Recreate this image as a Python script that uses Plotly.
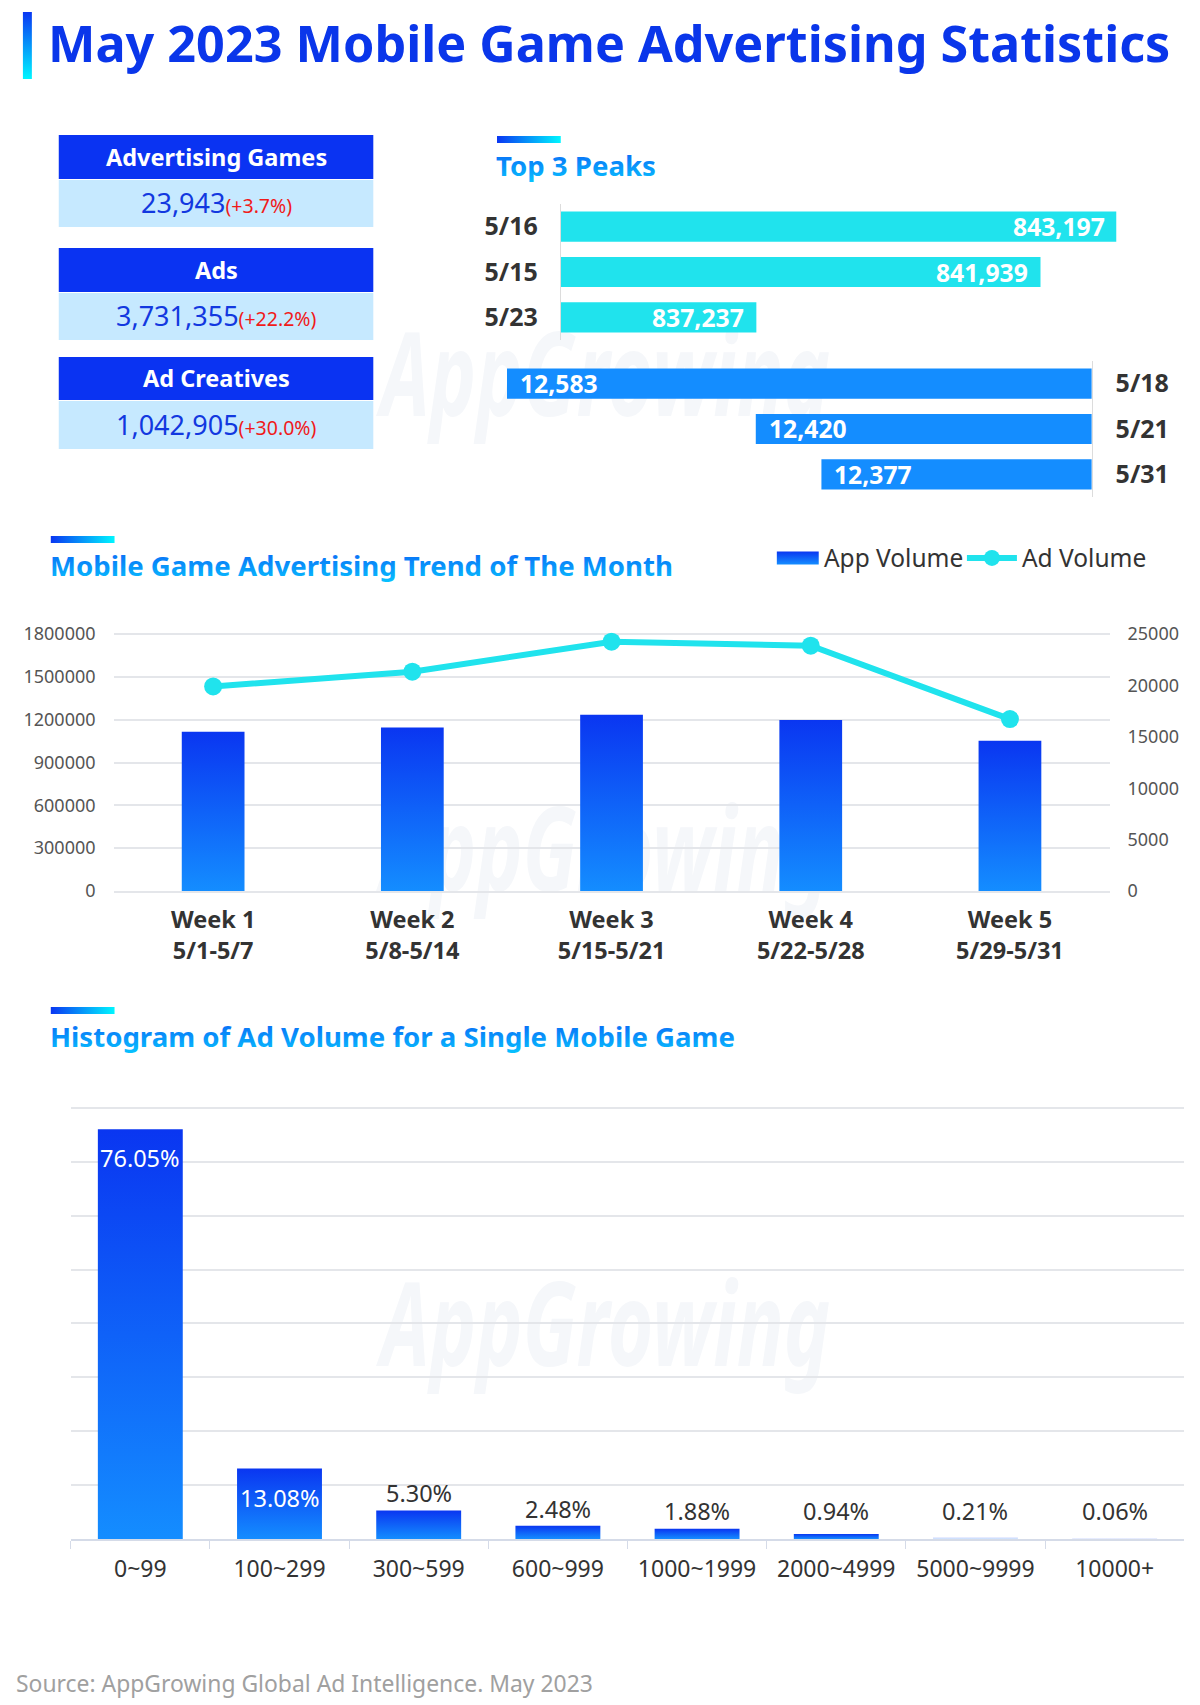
import plotly.graph_objects as go

W, H = 1200, 1705
FONT = "Noto Sans"
XS = 0.996

card_titles = ["Advertising Games", "Ads", "Ad Creatives"]
card_values = ["23,943", "3,731,355", "1,042,905"]
card_changes = ["(+3.7%)", "(+22.2%)", "(+30.0%)"]

ad_peak_days = ["5/16", "5/15", "5/23"]
ad_peak_values = [843197, 841939, 837237]
app_peak_days = ["5/18", "5/21", "5/31"]
app_peak_values = [12583, 12420, 12377]

week_labels = ["Week 1<br>5/1-5/7", "Week 2<br>5/8-5/14", "Week 3<br>5/15-5/21",
               "Week 4<br>5/22-5/28", "Week 5<br>5/29-5/31"]
app_volume = [1115000, 1145000, 1234000, 1197000, 1052000]
ad_volume = [19900, 21330, 24250, 23860, 16720]

bin_labels = ["0~99", "100~299", "300~599", "600~999", "1000~1999", "2000~4999", "5000~9999", "10000+"]
bin_shares = [76.05, 13.08, 5.30, 2.48, 1.88, 0.94, 0.21, 0.06]

BLUE_V = "#0a36f1"   # gradient bars marker
BLUE_H = "#0a36f2"   # horizontal accent
GRID = "#e4e6ea"
TXT = "#333333"


def px(x):
    return XS * x / W


def py(y):
    return 1 - y / H


def dom(a, b):
    return [px(a), px(b)]


def ydom(top, bottom):
    return [py(bottom), py(top)]


shapes, ann = [], []


def text(x, y, s, size, color, bold=False, anchor="left"):
    ann.append(dict(xref="paper", yref="paper", x=px(x), y=py(y), text=s, showarrow=False,
                    xanchor=anchor, yanchor="middle", align=anchor,
                    font=dict(family=FONT, size=size, color=color, weight=700 if bold else 400)))


def rect(x0, y0, x1, y1, color, layer="above"):
    shapes.append(dict(type="rect", xref="paper", yref="paper", x0=px(x0), x1=px(x1), y0=py(y0), y1=py(y1),
                       fillcolor=color, line=dict(width=0), layer=layer))


# watermarks
for cy in (376, 851, 1326):
    shapes.append(dict(type="rect", xref="paper", yref="paper", x0=px(362), x1=px(854),
                       y0=py(cy + 60), y1=py(cy - 60), fillcolor="rgba(0,0,0,0)", line=dict(width=0), layer="below",
                       label=dict(text="AppGrowing", textposition="middle center",
                                  font=dict(family=FONT, size=78, color="#f5f7fa", style="italic", weight=700))))

# headline
rect(23, 12, 32, 79, "#0a36f3")
text(46.2, 42, "May 2023 Mobile Game Advertising Statistics", 50.3, "#0a36ea", bold=True)

# section titles
for x, top, tc, s in [(499, 136, 165.5, "Top 3 Peaks"),
                      (51, 536, 565, "Mobile Game Advertising Trend of The Month"),
                      (51, 1007, 1036, "Histogram of Ad Volume for a Single Mobile Game")]:
    rect(x, top, x + 64, top + 7, BLUE_H)
    text(x - 3, tc, s, 27.6, "#1090ff", bold=True)

# KPI cards
for title, value, change, (t, m, b) in zip(card_titles, card_values, card_changes,
                                           [(135, 179, 227), (248, 292, 340), (357, 400, 449)]):
    rect(59, t, 374.8, m, "#0a33f2")
    rect(59, m + 1, 374.8, b, "#c6e9ff")
    text(216.9, (t + m) / 2, title, 23.5, "white", bold=True, anchor="center")
    text(216.9, (m + b) / 2,
         f'{value}<span style="font-size:19.5px;color:#f01a1a">{change}</span>', 27, "#1238e0", anchor="center")

source_note = "Source: AppGrowing Global Ad Intelligence. May 2023"
text(14, 1683.7, source_note, 22.9, "#a0a0a0")

fig = go.Figure()

fig.add_bar(y=ad_peak_days, x=ad_peak_values, orientation="h", xaxis="x", yaxis="y", width=0.667,
            marker=dict(color="#20e3ed", line=dict(width=0)), showlegend=False)
fig.add_bar(y=app_peak_days, x=app_peak_values, orientation="h", xaxis="x2", yaxis="y2", width=0.667,
            marker=dict(color="#148dff", line=dict(width=0)), showlegend=False)
fig.add_bar(x=week_labels, y=app_volume, xaxis="x3", yaxis="y3", width=0.315, name="App Volume",
            marker=dict(color=BLUE_V, line=dict(width=0)))
fig.add_scatter(x=week_labels, y=ad_volume, xaxis="x3", yaxis="y4", mode="lines+markers", name="Ad Volume",
                line=dict(color="#20e3ed", width=6), marker=dict(size=18, color="#20e3ed"))
fig.add_bar(x=bin_labels, y=bin_shares, xaxis="x4", yaxis="y5", width=0.61, showlegend=False,
            marker=dict(color=BLUE_V, line=dict(width=0), opacity=[0.2 if v < 0.5 else 1 for v in bin_shares]))

for d, v in zip(ad_peak_days, ad_peak_values):
    ann.append(dict(xref="x", yref="y", x=v, y=d, text=f"{v:,}", showarrow=False, xanchor="right", xshift=-10,
                    font=dict(family=FONT, size=24.7, color="white", weight=700)))
for d, v in zip(app_peak_days, app_peak_values):
    ann.append(dict(xref="x2", yref="y2", x=v, y=d, text=f"{v:,}", showarrow=False, xanchor="left", xshift=11,
                    font=dict(family=FONT, size=24.7, color="white", weight=700)))
for b, v in zip(bin_labels, bin_shares):
    inside = v > 10
    ann.append(dict(xref="x4", yref="y5", x=b, y=v if inside else max(v, 2.05), text=f"{v:.2f}%", showarrow=False,
                    yanchor="middle", yshift=-29 if inside else 17,
                    font=dict(family=FONT, size=23.5, color="white" if inside else TXT)))

axis_font = dict(family=FONT, size=18, color="#555555")
peak_font = dict(family=FONT, size=25, color=TXT, weight=700)
week_font = dict(family=FONT, size=23.5, color=TXT, weight=700)
# The top gridlines sit just inside the range so that they are kept.
TOP = 1.006
fig.update_layout(
    width=W, height=H, margin=dict(l=0, r=0, t=0, b=0, autoexpand=False), autosize=False,
    paper_bgcolor="white", plot_bgcolor="rgba(0,0,0,0)",
    font=dict(family=FONT), shapes=shapes, annotations=ann,
    legend=dict(orientation="h", x=px(767), y=py(558), xanchor="left", yanchor="middle", itemwidth=50,
                entrywidth=133, entrywidthmode="pixels",
                bgcolor="rgba(0,0,0,0)", font=dict(family=FONT, size=24.5, color=TXT), tracegroupgap=0),
    xaxis=dict(domain=dom(563, 1121), range=[834000, 843197], visible=False, anchor="y"),
    yaxis=dict(domain=ydom(204, 340), anchor="x", autorange="reversed", type="category", showline=True,
               linecolor="#dcdcdc", ticks="", ticklabelstandoff=17, tickfont=peak_font, showgrid=False),
    xaxis2=dict(domain=dom(509, 1096), range=[12583, 12200], visible=False, anchor="y2"),
    yaxis2=dict(domain=ydom(361, 497), anchor="x2", side="right", autorange="reversed", type="category",
                showline=True, linecolor="#dcdcdc", ticks="", ticklabelstandoff=18, tickfont=peak_font, showgrid=False),
    xaxis3=dict(domain=dom(114, 1114), anchor="y3", type="category", showline=True, linecolor=GRID, linewidth=1.5,
                ticks="", ticklabelstandoff=7, tickfont=week_font),
    yaxis3=dict(domain=ydom(632.45, 891), anchor="x3", range=[0, 1800000 * TOP], dtick=300000, tickformat="d",
                gridcolor=GRID, gridwidth=1.5, zeroline=False, ticks="", ticklabelstandoff=17, tickfont=axis_font),
    yaxis4=dict(domain=ydom(632.45, 891), anchor="x3", overlaying="y3", side="right", range=[0, 25000 * TOP],
                dtick=5000, tickformat="d", showgrid=False, zeroline=False, ticks="", ticklabelstandoff=17,
                tickfont=axis_font),
    xaxis4=dict(domain=dom(71, 1189), anchor="y5", type="category", showline=True, linecolor="#d5dbe8", linewidth=1.5,
                ticks="outside", tickson="boundaries", ticklen=8, tickcolor="#d5dbe8",
                tickfont=dict(family=FONT, size=23, color=TXT), ticklabelstandoff=9),
    yaxis5=dict(domain=ydom(1105.4, 1539), anchor="x4", range=[0, 80 * TOP], dtick=10, showticklabels=False,
                gridcolor=GRID, gridwidth=1.5, zeroline=False, ticks=""),
)

post = """
document.body.style.margin = '0';
var svg = document.querySelector('.main-svg');
var NS = 'http://www.w3.org/2000/svg';
var defs = svg.querySelector('defs');
function grad(id, x2, y2, c1, c2) {
  var g = document.createElementNS(NS, 'linearGradient');
  g.setAttribute('id', id);
  g.setAttribute('x1', 0); g.setAttribute('y1', 0); g.setAttribute('x2', x2); g.setAttribute('y2', y2);
  [[0, c1], [1, c2]].forEach(function (s) {
    var st = document.createElementNS(NS, 'stop');
    st.setAttribute('offset', s[0]); st.setAttribute('stop-color', s[1]);
    g.appendChild(st);
  });
  defs.appendChild(g);
}
grad('gBar', 0, 1, '#0a36f1', '#148dff');
grad('gV', 0, 1, '#0a36f3', '#00f6ff');
grad('gH', 1, 0, '#0a36f2', '#00f6ff');
grad('gText', 0, 1, '#0a5af5', '#07c8ff');
function apply() {
  document.querySelectorAll('.legend .legendpoints path, .legend .traces path').forEach(function (p) {
    if (p.style.fill === 'rgb(10, 54, 241)' || p.style.fill.indexOf('gBar') >= 0) {
      p.setAttribute('d', 'M24.8,6.5H-17.1V-6.5H24.8Z');
      p.style.fill = 'url(#gBar)';
    }
  });
  document.querySelectorAll('.barlayer .point path').forEach(function (p) {
    if (p.style.fill === 'rgb(10, 54, 241)') p.style.fill = 'url(#gBar)';
  });
  document.querySelectorAll('.shapelayer path').forEach(function (p) {
    var f = p.style.fill;
    if (f === 'rgb(10, 54, 243)') p.style.fill = 'url(#gV)';
    if (f === 'rgb(10, 54, 242)') p.style.fill = 'url(#gH)';
  });
  document.querySelectorAll('.annotation-text').forEach(function (t) {
    if (t.style.fill === 'rgb(16, 144, 255)') t.style.fill = 'url(#gText)';
  });
  document.querySelectorAll('svg text').forEach(function (t) {
    if (t.textContent === 'AppGrowing') {
      var b = t.getBBox(), cx = b.x + b.width / 2, cy = b.y + b.height / 2;
      t.setAttribute('transform', 'translate(' + cx + ',' + cy + ') scale(1,1.5) translate(' + (-cx) + ',' + (-cy) + ')');
    }
  });
}
apply();
setTimeout(apply, 50);
setTimeout(apply, 300);
"""
fig.write_html("out.html", post_script=post, config=dict(displayModeBar=False))
